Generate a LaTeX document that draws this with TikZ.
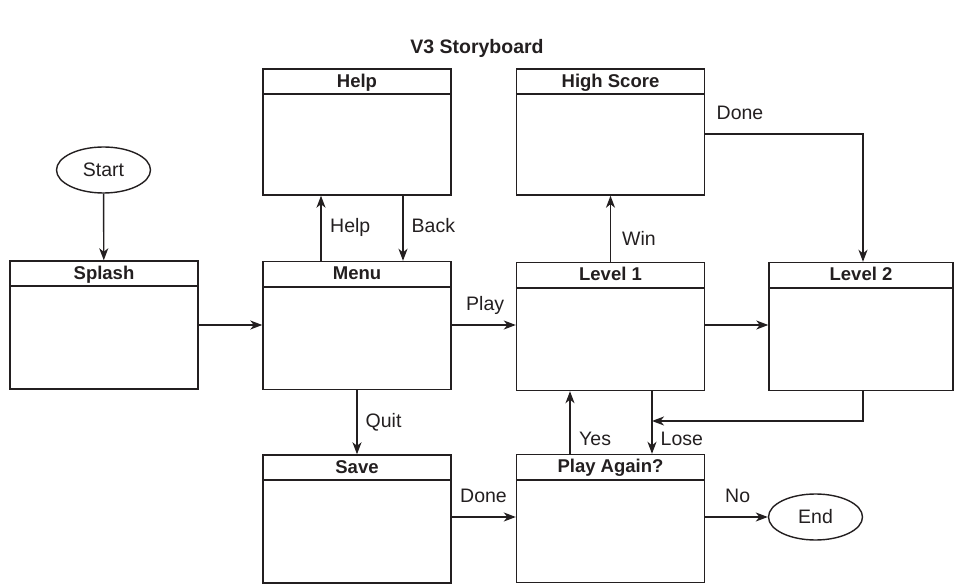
\documentclass[tikz,border=0pt]{standalone}
\usepackage{fontspec}
\setmainfont{Liberation Sans}
\usetikzlibrary{arrows.meta,shapes.geometric,calc}
\definecolor{ink}{HTML}{231F20}
\begin{document}
\begin{tikzpicture}[x=1pt,y=-1pt,
  scr/.style={draw=ink, line width=1.4pt, rectangle, minimum width=188pt, minimum height=128pt, inner sep=0pt},
  hdrline/.style={draw=ink, line width=2.2pt},
  hdr/.style={font=\bfseries\fontsize{18.5}{20}\selectfont, text=ink, anchor=base, inner sep=0pt},
  lbl/.style={font=\fontsize{19.5}{21}\selectfont, text=ink, anchor=base west, inner sep=0pt},
  term/.style={draw=ink, ellipse, minimum width=94pt, minimum height=46pt, inner sep=0pt, line width=1.4pt, font=\fontsize{19.5}{21}\selectfont, text=ink},
  arr/.style={draw=ink, line width=1.4pt, -{Stealth[length=12pt,width=9pt,inset=3.5pt]}}
]
\useasboundingbox (0,0) rectangle (954,585);
\node[font=\bfseries\fontsize{19.5}{21}\selectfont, text=ink, anchor=base, inner sep=0pt] (title) at (477,54) {V3 Storyboard};

% screens
\node[scr] (splash) at (104,325) {};
\node[scr] (menu) at (357,325.5) {};
\node[scr, minimum height=126pt] (help) at (357,132) {};
\node[scr, minimum height=126pt] (hs) at (610.5,132) {};
\node[scr] (level1) at (610.5,326.5) {};
\node[scr, minimum width=184pt] (level2) at (861,326.5) {};
\node[scr] (save) at (357,519) {};
\node[scr] (pa) at (610.5,518.5) {};

\foreach \n/\t in {splash/Splash, menu/Menu, help/Help, hs/High Score, level1/Level 1, level2/Level 2, save/Save, pa/Play Again?} {
  \draw[hdrline] ($(\n.north west)+(0,26)$) -- ($(\n.north east)+(0,26)$);
  \node[hdr] (\n-t) at ($(\n.north)+(0,19)$) {\t};
}

% terminals
\node[term] (start) at (103.5,170) {Start};
\node[term] (end) at (815.5,517) {End};

% helper coordinates
\coordinate (xhelp) at (321,0);
\coordinate (xback) at (403,0);
\coordinate (xyes) at (570,0);
\coordinate (xlose) at (652,0);
\coordinate (xdone) at (863,0);
\coordinate (ymid) at (0,325);
\coordinate (ylow) at (0,517);
\coordinate (ydone) at (0,134);
\coordinate (yl2) at (0,421);

% connectors
\draw[arr] (start) -- (splash);
\draw[arr] (splash.east |- ymid) -- (menu.west |- ymid);
\draw[arr] (menu.north -| xhelp) -- (help.south -| xhelp);
\draw[arr] (help.south -| xback) -- (menu.north -| xback);
\draw[arr] (menu.east |- ymid) -- (level1.west |- ymid);
\draw[arr] (menu) -- (save);
\draw[arr] (level1.north) -- (hs.south);
\draw[arr] (hs.east |- ydone) -| (level2.north -| xdone);
\draw[arr] (level1.east |- ymid) -- (level2.west |- ymid);
\draw[arr] (pa.north -| xyes) -- (level1.south -| xyes);
\draw[arr] (level1.south -| xlose) -- (pa.north -| xlose);
\draw[arr] (level2.south -| xdone) |- (xlose |- yl2);
\draw[arr] (save.east |- ylow) -- (pa.west |- ylow);
\draw[arr] (pa.east |- ylow) -- (end.west);

% labels
\node[lbl] (lhelp) at (330,233) {Help};
\node[lbl] (lback) at (411.5,233) {Back};
\node[lbl] (lplay) at (466,310.5) {Play};
\node[lbl] (lquit) at (365.5,428) {Quit};
\node[lbl] (ldone1) at (460,502) {Done};
\node[lbl] (lyes) at (579,446) {Yes};
\node[lbl] (llose) at (660.5,446) {Lose};
\node[lbl] (lno) at (725,502) {No};
\node[lbl] (lwin) at (622,245.5) {Win};
\node[lbl] (ldone2) at (716.5,120) {Done};
\end{tikzpicture}
\end{document}
